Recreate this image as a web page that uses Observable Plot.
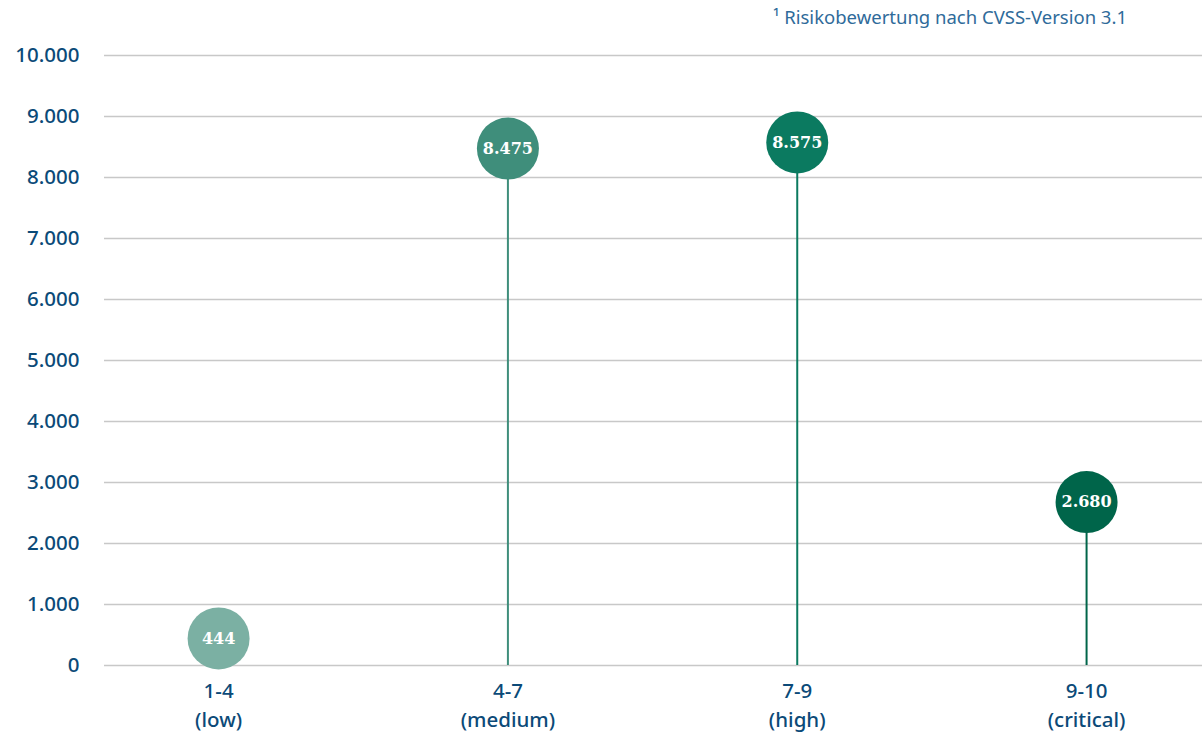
<!DOCTYPE html>
<html>
<head>
<meta charset="utf-8">
<script src="https://cdn.jsdelivr.net/npm/d3@7"></script>
<script src="https://cdn.jsdelivr.net/npm/@observablehq/plot@0.6"></script>
<style>
  html, body { margin: 0; padding: 0; background: #fff; }
  #wrap { position: relative; width: 1202px; height: 733px; }
  #note { position: absolute; right: 75px; top: 4px; font-family: "Noto Sans", sans-serif; font-size: 18.5px; color: #2f6b9a; white-space: nowrap; }
  svg { display: block; }
</style>
</head>
<body>
<div id="wrap">
  <div id="note">¹ Risikobewertung nach CVSS-Version 3.1</div>
  <div id="chart"></div>
</div>
<script>
const ranges = ["1-4", "4-7", "7-9", "9-10"];
const levels = ["low", "medium", "high", "critical"];
const values = [444, 8475, 8575, 2680];
const colors = ["#7bb0a3", "#3f8e7b", "#0b7a60", "#00654a"];
const yTicks = [0, 1000, 2000, 3000, 4000, 5000, 6000, 7000, 8000, 9000, 10000];

const fmt = d3.formatLocale({decimal: ",", thousands: ".", grouping: [3], currency: ["", "€"]}).format(",");
const data = ranges.map((r, i) => ({range: r, level: levels[i], value: values[i], color: colors[i]}));

const blue = "#0b4a78";
const chart = Plot.plot({
  width: 1202,
  height: 733,
  marginTop: 55,
  marginBottom: 68,
  marginLeft: 104,
  marginRight: 0,
  style: {fontFamily: "'Noto Sans', sans-serif", background: "#fff"},
  x: {type: "point", domain: ranges, padding: 0.3975, align: 0.496, round: false, axis: null},
  y: {domain: [0, 10000], axis: null},
  color: {type: "identity"},
  marks: [
    Plot.ruleY(yTicks, {y: d => d, stroke: "#c8c8c8", strokeWidth: 1.5}),
    Plot.text(yTicks, {y: d => d, text: d => fmt(d), frameAnchor: "left", textAnchor: "end", dx: -25, fontSize: 20.5, fontWeight: 500, fill: blue}),
    Plot.ruleX(data, {x: "range", y1: 0, y2: "value", stroke: "color", strokeWidth: 2}),
    Plot.dot(data, {x: "range", y: "value", r: 31, fill: "color", stroke: null}),
    Plot.text(data, {x: "range", y: "value", text: d => fmt(d.value), fill: "white", fontFamily: "'DejaVu Serif', serif", fontWeight: "bold", fontSize: 16}),
    Plot.text(data, {x: "range", text: d => d.range + "\n(" + d.level + ")", frameAnchor: "bottom", lineAnchor: "top", dy: 12, lineHeight: 1.4, fontSize: 20.5, fontWeight: 500, fill: blue})
  ]
});
document.getElementById("chart").appendChild(chart);
</script>
</body>
</html>
